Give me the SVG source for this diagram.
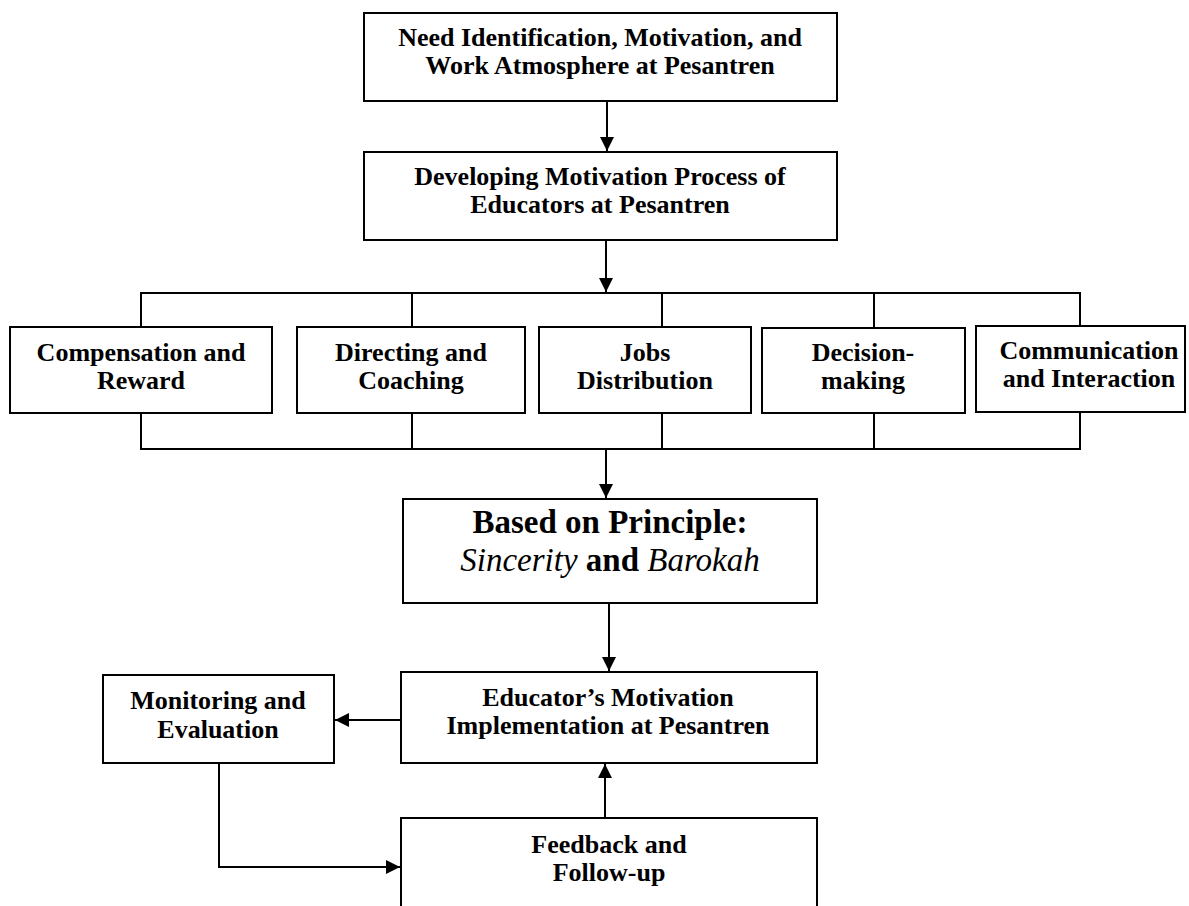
<svg xmlns="http://www.w3.org/2000/svg" width="1189" height="906" viewBox="0 0 1189 906">
<style>
.box{fill:#fff;stroke:#000;stroke-width:2}
.t{font-family:"Liberation Serif","Times New Roman",serif;font-weight:bold;font-size:26px;text-anchor:middle;fill:#000}
.big{font-size:33px}
.it{font-style:italic;font-weight:normal}
.ln{fill:none;stroke:#000;stroke-width:2}
</style>
<defs>
<marker id="ah" viewBox="0 0 10 10" refX="10" refY="5" markerWidth="15" markerHeight="14" markerUnits="userSpaceOnUse" orient="auto">
<path d="M0,0 L10,5 L0,10 Z" fill="#000"/>
</marker>
</defs>
<rect width="1189" height="906" fill="#fff"/>
<g id="connectors">
<line class="ln" x1="607" y1="101" x2="607" y2="151" marker-end="url(#ah)"/>
<line class="ln" x1="606" y1="240" x2="606" y2="292" marker-end="url(#ah)"/>
<polyline class="ln" points="141,327 141,293 1080,293 1080,326"/>
<line class="ln" x1="412" y1="293" x2="412" y2="327"/>
<line class="ln" x1="662" y1="293" x2="662" y2="327"/>
<line class="ln" x1="874" y1="293" x2="874" y2="328"/>
<polyline class="ln" points="141,413 141,449 1080,449 1080,412"/>
<line class="ln" x1="412" y1="413" x2="412" y2="449"/>
<line class="ln" x1="662" y1="413" x2="662" y2="449"/>
<line class="ln" x1="874" y1="413" x2="874" y2="449"/>
<line class="ln" x1="606" y1="449" x2="606" y2="498" marker-end="url(#ah)"/>
<line class="ln" x1="609" y1="603" x2="609" y2="671" marker-end="url(#ah)"/>
<line class="ln" x1="401" y1="720" x2="335" y2="720" marker-end="url(#ah)"/>
<line class="ln" x1="605" y1="818" x2="605" y2="764" marker-end="url(#ah)"/>
<polyline class="ln" points="219,763 219,867 400,867" marker-end="url(#ah)"/>
</g>
<g id="need">
<rect class="box" x="364" y="13" width="473" height="88"/>
<text class="t" x="600" y="46">Need Identification, Motivation, and</text>
<text class="t" x="600" y="74">Work Atmosphere at Pesantren</text>
</g>
<g id="developing">
<rect class="box" x="364" y="152" width="473" height="88"/>
<text class="t" x="600" y="185">Developing Motivation Process of</text>
<text class="t" x="600" y="213">Educators at Pesantren</text>
</g>
<g id="compensation">
<rect class="box" x="10" y="327" width="262" height="86"/>
<text class="t" x="141" y="361">Compensation and</text>
<text class="t" x="141" y="389">Reward</text>
</g>
<g id="directing">
<rect class="box" x="297" y="327" width="228" height="86"/>
<text class="t" x="411" y="361">Directing and</text>
<text class="t" x="411" y="389">Coaching</text>
</g>
<g id="jobs">
<rect class="box" x="539" y="327" width="212" height="86"/>
<text class="t" x="645" y="361">Jobs</text>
<text class="t" x="645" y="389">Distribution</text>
</g>
<g id="decision">
<rect class="box" x="762" y="328" width="203" height="85"/>
<text class="t" x="863" y="361">Decision-</text>
<text class="t" x="863" y="389">making</text>
</g>
<g id="communication">
<rect class="box" x="976" y="326" width="209" height="86"/>
<text class="t" x="1089" y="359">Communication</text>
<text class="t" x="1089" y="387">and Interaction</text>
</g>
<g id="principle">
<rect class="box" x="403" y="499" width="414" height="104"/>
<text class="t big" x="610" y="533">Based on Principle:</text>
<text class="t big" x="610" y="571"><tspan class="it">Sincerity</tspan> and <tspan class="it">Barokah</tspan></text>
</g>
<g id="implementation">
<rect class="box" x="401" y="672" width="416" height="91"/>
<text class="t" x="608" y="706">Educator’s Motivation</text>
<text class="t" x="608" y="734">Implementation at Pesantren</text>
</g>
<g id="monitoring">
<rect class="box" x="103" y="675" width="231" height="88"/>
<text class="t" x="218" y="709">Monitoring and</text>
<text class="t" x="218" y="738">Evaluation</text>
</g>
<g id="feedback">
<path class="ln" d="M401,910 L401,818 L817,818 L817,910"/>
<text class="t" x="609" y="853">Feedback and</text>
<text class="t" x="609" y="881">Follow-up</text>
</g>
</svg>
